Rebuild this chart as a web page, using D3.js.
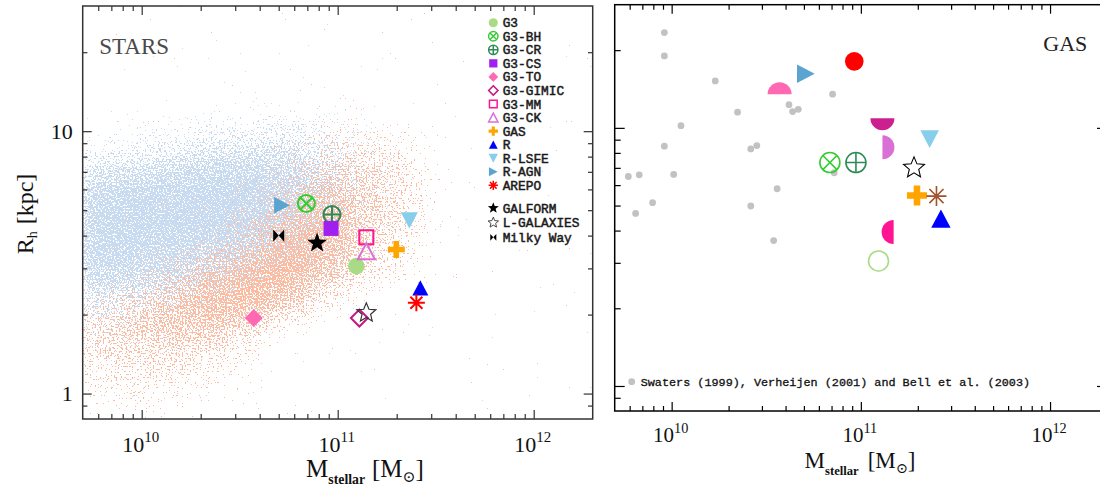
<!DOCTYPE html>
<html>
<head>
<meta charset="utf-8">
<script src="https://cdn.jsdelivr.net/npm/d3@7"></script>
<style>
  html, body { margin: 0; padding: 0; background: #fff; }
  svg { display: block; }
</style>
</head>
<body>
<svg id="chart" width="1100" height="488"></svg>
<script>
// ---------- data ----------
// Simulated galaxies: stellar half-mass radius vs stellar mass
const starModels = ["G3", "G3-BH", "G3-CR", "G3-CS", "G3-TO", "G3-GIMIC", "G3-MM", "G3-CK",
                    "GAS", "R", "R-LSFE", "R-AGN", "AREPO", "GALFORM", "L-GALAXIES", "Milky Way"];
const starMass = [1.245e11, 6.92e10, 9.35e10, 9.25e10, 3.73e10, 1.29e11, 1.40e11, 1.40e11,
                  1.99e11, 2.64e11, 2.32e11, 5.2e10, 2.52e11, 7.85e10, 1.40e11, 5.0e10];
const starRh = [3.06, 5.30, 4.81, 4.26, 1.94, 1.94, 3.94, 3.49,
                3.54, 2.53, 4.57, 5.22, 2.22, 3.75, 2.03, 4.0];

// Gas half-mass radius vs stellar mass
const gasModels = ["G3", "G3-BH", "G3-CR", "G3-CS", "G3-TO", "G3-GIMIC", "G3-MM", "G3-CK",
                   "GAS", "R", "R-LSFE", "R-AGN", "AREPO", "L-GALAXIES"];
const gasMass = [1.24e11, 6.86e10, 9.42e10, 9.23e10, 3.72e10, 1.30e11, 1.49e11, 1.30e11,
                 1.98e11, 2.65e11, 2.31e11, 5.12e10, 2.51e11, 1.91e11];
const gasRh = [3.05, 7.34, 7.34, 18.1, 13.5, 10.9, 3.95, 8.41,
               5.47, 4.45, 9.05, 16.2, 5.44, 7.0];

// Observed disc galaxies (HI sizes)
const obsMass = [9.15e9, 9.15e9, 1.70e10, 2.23e10, 1.12e10, 9.15e9, 2.62e10, 2.82e10, 5.90e9, 6.74e9,
                 1.025e10, 7.93e9, 6.45e9, 2.62e10, 3.61e10, 3.46e10, 7.09e10, 4.17e10, 4.36e10, 4.67e10, 7.23e10];
const obsRh = [23.4, 19.0, 15.2, 11.5, 10.2, 8.49, 8.29, 8.54, 6.48, 6.58,
               6.60, 5.13, 4.66, 4.98, 5.81, 3.66, 13.5, 12.3, 11.56, 11.8, 6.70];
const obsLabel = "Swaters (1999), Verheijen (2001) and Bell et al. (2003)";

// Semi-analytic galaxy populations: relative number density on a grid
// columns: log10 stellar mass bin centres; rows: log10 radius bin centres
const cloudLogMass = [9.75, 9.95, 10.15, 10.35, 10.55, 10.75, 10.95, 11.15, 11.35, 11.55];
const cloudLogRh = [1.25, 1.15, 1.05, 0.95, 0.85, 0.75, 0.65, 0.55, 0.45, 0.35, 0.25, 0.15, 0.05, -0.05];
const discDensity = [   // late types (blue)
  [0.0, 0.0, 0.0, 0.0, 0.0, 0.01, 0.01, 0.0, 0.0, 0.0],
  [0.02, 0.03, 0.04, 0.05, 0.06, 0.06, 0.05, 0.03, 0.01, 0.0],
  [0.1, 0.14, 0.2, 0.24, 0.28, 0.32, 0.27, 0.18, 0.08, 0.02],
  [0.28, 0.35, 0.45, 0.55, 0.6, 0.6, 0.48, 0.3, 0.13, 0.04],
  [0.64, 0.72, 0.8, 0.88, 0.88, 0.82, 0.62, 0.38, 0.16, 0.05],
  [0.9, 0.95, 0.95, 1.0, 1.0, 0.9, 0.66, 0.38, 0.16, 0.05],
  [0.95, 1.0, 1.0, 1.0, 0.95, 0.85, 0.62, 0.32, 0.13, 0.04],
  [0.92, 0.95, 0.92, 0.88, 0.82, 0.72, 0.5, 0.25, 0.1, 0.03],
  [0.82, 0.82, 0.78, 0.72, 0.62, 0.48, 0.32, 0.16, 0.07, 0.02],
  [0.6, 0.55, 0.5, 0.42, 0.34, 0.24, 0.14, 0.07, 0.03, 0.01],
  [0.4, 0.35, 0.28, 0.22, 0.15, 0.09, 0.05, 0.03, 0.01, 0.0],
  [0.25, 0.2, 0.15, 0.11, 0.07, 0.04, 0.02, 0.01, 0.0, 0.0],
  [0.16, 0.13, 0.09, 0.06, 0.04, 0.02, 0.01, 0.0, 0.0, 0.0],
  [0.1, 0.08, 0.05, 0.03, 0.02, 0.01, 0.0, 0.0, 0.0, 0.0]
];
const spheroidDensity = [   // early types (salmon)
  [0.0, 0.0, 0.0, 0.0, 0.0, 0.0, 0.0, 0.0, 0.0, 0.0],
  [0.0, 0.0, 0.0, 0.0, 0.0, 0.02, 0.04, 0.04, 0.02, 0.0],
  [0.0, 0.0, 0.0, 0.02, 0.05, 0.1, 0.16, 0.18, 0.12, 0.03],
  [0.0, 0.0, 0.02, 0.04, 0.1, 0.2, 0.32, 0.38, 0.28, 0.1],
  [0.01, 0.02, 0.03, 0.07, 0.16, 0.34, 0.5, 0.52, 0.4, 0.14],
  [0.02, 0.03, 0.05, 0.1, 0.24, 0.5, 0.7, 0.62, 0.42, 0.14],
  [0.03, 0.04, 0.08, 0.18, 0.38, 0.68, 0.82, 0.62, 0.4, 0.12],
  [0.05, 0.08, 0.18, 0.38, 0.62, 0.85, 0.82, 0.55, 0.32, 0.08],
  [0.12, 0.2, 0.4, 0.68, 0.85, 0.92, 0.7, 0.4, 0.18, 0.04],
  [0.32, 0.48, 0.68, 0.85, 0.9, 0.72, 0.36, 0.12, 0.05, 0.01],
  [0.5, 0.6, 0.72, 0.72, 0.5, 0.2, 0.07, 0.03, 0.01, 0.0],
  [0.45, 0.5, 0.52, 0.44, 0.24, 0.07, 0.02, 0.0, 0.0, 0.0],
  [0.34, 0.37, 0.34, 0.26, 0.12, 0.04, 0.01, 0.0, 0.0, 0.0],
  [0.24, 0.27, 0.2, 0.1, 0.05, 0.01, 0.0, 0.0, 0.0, 0.0]
];

// Axis ticks
const majorMass = [1e10, 1e11, 1e12];
const minorMass = [6e9, 7e9, 8e9, 9e9, 2e10, 3e10, 4e10, 5e10, 6e10, 7e10, 8e10, 9e10,
                   2e11, 3e11, 4e11, 5e11, 6e11, 7e11, 8e11, 9e11];
const majorRadius = [1, 10];
const minorRadius = [0.9, 2, 3, 4, 5, 6, 7, 8, 9, 20];
const radiusTickLabels = ["1", "10"];

// ---------- marker styles ----------
const starStyle = {
  "G3":         { shape: "disc",        color: "#a9db86", s: 8.3 },
  "G3-BH":      { shape: "otimes",      color: "#33cc33", s: 8.5, w: 2 },
  "G3-CR":      { shape: "oplus",       color: "#2e8b57", s: 8.5, w: 2 },
  "G3-CS":      { shape: "square",      color: "#a020f0", s: 7.5 },
  "G3-TO":      { shape: "diamond",     color: "#ff69b4", s: 9 },
  "G3-GIMIC":   { shape: "diamondOpen", color: "#c71585", s: 8.5, w: 2 },
  "G3-MM":      { shape: "squareOpen",  color: "#ff1493", s: 7, w: 2 },
  "G3-CK":      { shape: "triUpOpen",   color: "#da70d6", s: 8.5, w: 2 },
  "GAS":        { shape: "plus",        color: "#ffa500", s: 8.5 },
  "R":          { shape: "triUp",       color: "#0000ff", s: 8 },
  "R-LSFE":     { shape: "triDown",     color: "#87ceeb", s: 8.5 },
  "R-AGN":      { shape: "triRight",    color: "#5ba3d0", s: 8.3 },
  "AREPO":      { shape: "asterisk",    color: "#ff0000", s: 8.5, w: 2 },
  "GALFORM":    { shape: "star",        color: "#000000", s: 10.5 },
  "L-GALAXIES": { shape: "starOpen",    color: "#333333", s: 10, w: 1.2 },
  "Milky Way":  { shape: "bowtie",      color: "#000000", s: 5.5 }
};
const gasStyle = {
  "G3":         { shape: "ring",      color: "#a9db86", s: 10, w: 1.6 },
  "G3-BH":      { shape: "otimes",    color: "#33cc33", s: 10, w: 1.6 },
  "G3-CR":      { shape: "oplus",     color: "#2e8b57", s: 10, w: 1.6 },
  "G3-CS":      { shape: "disc",      color: "#ff0000", s: 9.3 },
  "G3-TO":      { shape: "halfUp",    color: "#ff69b4", s: 12 },
  "G3-GIMIC":   { shape: "halfDown",  color: "#cc2090", s: 12 },
  "G3-MM":      { shape: "halfLeft",  color: "#ff1493", s: 12 },
  "G3-CK":      { shape: "halfRight", color: "#da70d6", s: 12 },
  "GAS":        { shape: "plus",      color: "#ffa500", s: 10 },
  "R":          { shape: "triUp",     color: "#0000ff", s: 9.7 },
  "R-LSFE":     { shape: "triDown",   color: "#87ceeb", s: 9.3 },
  "R-AGN":      { shape: "triRight",  color: "#5ba3d0", s: 9.3 },
  "AREPO":      { shape: "asterisk",  color: "#a0522d", s: 10, w: 1.6 },
  "L-GALAXIES": { shape: "starOpen",  color: "#000000", s: 11, w: 1.1 }
};

// ---------- helpers ----------
function starPath(R, r) {
  const pts = [];
  for (let i = 0; i < 10; i++) {
    const a = -Math.PI / 2 + i * Math.PI / 5;
    const rad = i % 2 === 0 ? R : r;
    pts.push([rad * Math.cos(a), rad * Math.sin(a)]);
  }
  return "M" + pts.map(p => p[0].toFixed(2) + "," + p[1].toFixed(2)).join("L") + "Z";
}

function drawMarker(g, st, k) {
  const s = st.s * (k || 1);
  const w = (st.w || 1.5) * (k ? Math.max(k, 0.75) : 1);
  const c = st.color;
  const fillPath = d => g.append("path").attr("d", d).attr("fill", c);
  const linePath = d => g.append("path").attr("d", d).attr("fill", "none")
                         .attr("stroke", c).attr("stroke-width", w).attr("stroke-linejoin", "miter");
  const h = 0.95 * s;
  switch (st.shape) {
    case "disc": g.append("circle").attr("r", s).attr("fill", c); break;
    case "ring": g.append("circle").attr("r", s).attr("fill", "none").attr("stroke", c).attr("stroke-width", w); break;
    case "otimes": {
      const a = s * 0.707;
      g.append("circle").attr("r", s).attr("fill", "none").attr("stroke", c).attr("stroke-width", w);
      linePath(`M${-a},${-a}L${a},${a}M${-a},${a}L${a},${-a}`);
      break;
    }
    case "oplus":
      g.append("circle").attr("r", s).attr("fill", "none").attr("stroke", c).attr("stroke-width", w);
      linePath(`M${-s},0L${s},0M0,${-s}L0,${s}`);
      break;
    case "square": fillPath(`M${-s},${-s}H${s}V${s}H${-s}Z`); break;
    case "squareOpen": linePath(`M${-s},${-s}H${s}V${s}H${-s}Z`); break;
    case "diamond": fillPath(`M0,${-s}L${s},0L0,${s}L${-s},0Z`); break;
    case "diamondOpen": linePath(`M0,${-s}L${s},0L0,${s}L${-s},0Z`); break;
    case "triUp": fillPath(`M0,${-h}L${s},${h}L${-s},${h}Z`); break;
    case "triUpOpen": linePath(`M0,${-h}L${s},${h}L${-s},${h}Z`); break;
    case "triDown": fillPath(`M0,${h}L${s},${-h}L${-s},${-h}Z`); break;
    case "triRight": fillPath(`M${h},0L${-h},${-s}L${-h},${s}Z`); break;
    case "plus": {
      const t = 0.33 * s;
      fillPath(`M${-t},${-s}H${t}V${-t}H${s}V${t}H${t}V${s}H${-t}V${t}H${-s}V${-t}H${-t}Z`);
      break;
    }
    case "asterisk": {
      const a = s * 0.707;
      linePath(`M${-s},0L${s},0M0,${-s}L0,${s}M${-a},${-a}L${a},${a}M${-a},${a}L${a},${-a}`);
      break;
    }
    case "star": fillPath(starPath(s, s * 0.42)); break;
    case "starOpen": linePath(starPath(s, s * 0.45)); break;
    case "bowtie": fillPath(`M${-s},${-1.1 * s}L0,0L${-s},${1.1 * s}ZM${s},${-1.1 * s}L0,0L${s},${1.1 * s}Z`); break;
    case "halfUp": fillPath(`M${-s},0A${s},${s} 0 0 1 ${s},0Z`); break;
    case "halfDown": fillPath(`M${-s},0A${s},${s} 0 0 0 ${s},0Z`); break;
    case "halfRight": fillPath(`M0,${-s}A${s},${s} 0 0 1 0,${s}Z`); break;
    case "halfLeft": fillPath(`M0,${-s}A${s},${s} 0 0 0 0,${s}Z`); break;
  }
}

// ---------- canvas ----------
const svg = d3.select("#chart");
const defs = svg.append("defs");
const SERIF = "'Liberation Serif', 'DejaVu Serif', serif";
const MONO = "'Liberation Mono', 'DejaVu Sans Mono', monospace";

const leftBox = { x0: 82.7, x1: 592.7, y0: 6, y1: 419 };
const rightBox = { x0: 614.7, x1: 1107, y0: 4.7, y1: 411 };

function makeScales(box) {
  return {
    x: d3.scaleLog().domain([5e9, 2e12]).range([box.x0, box.x1]),
    y: d3.scaleLog().domain([0.8, 30]).range([box.y1, box.y0])
  };
}
const L = makeScales(leftBox);
const R = makeScales(rightBox);

// frame + inward ticks on all four sides
function drawFrame(box, sc, opt) {
  const g = svg.append("g").attr("class", "frame");
  const tickSet = (axisGen, values, size) => sel => {
    sel.call(axisGen.tickValues(values).tickSize(size).tickFormat(""));
    sel.select(".domain").remove();
    sel.selectAll(".tick line").attr("stroke", opt.color).attr("stroke-width", 1.2);
  };
  const sides = [
    [() => d3.axisBottom(sc.x), `translate(0,${box.y1})`, minorMass, majorMass, opt.xMinor, opt.xMajor],
    [() => d3.axisTop(sc.x), `translate(0,${box.y0})`, minorMass, majorMass, opt.xMinor, opt.xMajor],
    [() => d3.axisLeft(sc.y), `translate(${box.x0},0)`, minorRadius, majorRadius, opt.yMinor, opt.yMajor],
    [() => d3.axisRight(sc.y), `translate(${box.x1},0)`, minorRadius, majorRadius, opt.yMinor, opt.yMajor]
  ];
  sides.forEach(([mk, tr, minor, major, sMin, sMaj]) => {
    g.append("g").attr("transform", tr).call(tickSet(mk(), minor, -sMin));
    g.append("g").attr("transform", tr).call(tickSet(mk(), major, -sMaj));
  });
  g.append("rect")
    .attr("x", box.x0).attr("y", box.y0)
    .attr("width", box.x1 - box.x0).attr("height", box.y1 - box.y0)
    .attr("fill", "none").attr("stroke", opt.color).attr("stroke-width", 1.5);
}

function massTickLabels(sc, baseline, size) {
  const g = svg.append("g").attr("font-family", SERIF).attr("fill", "#111");
  majorMass.forEach(v => {
    const t = g.append("text").attr("x", sc.x(v) - 1).attr("y", baseline)
      .attr("text-anchor", "middle").attr("font-size", size);
    t.append("tspan").text("10");
    t.append("tspan").attr("font-size", size * 0.68).attr("dy", -size * 0.42)
      .text(String(Math.round(Math.log10(v))));
  });
}

function massTitle(cx, baseline, size, gapPx) {
  const t = svg.append("text").attr("x", cx).attr("y", baseline)
    .attr("text-anchor", "middle").attr("font-family", SERIF)
    .attr("font-size", size).attr("fill", "#111");
  t.append("tspan").text("M");
  t.append("tspan").attr("font-size", size * 0.55).attr("font-weight", "bold")
    .attr("dy", size * 0.3).text("stellar");
  t.append("tspan").attr("dy", -size * 0.3).attr("dx", gapPx).text("[M");
  t.append("tspan").attr("font-size", size * 0.62).attr("dy", size * 0.2)
    .attr("font-family", "'DejaVu Serif', serif").text("\u2299");
  t.append("tspan").attr("dy", -size * 0.2).text("]");
}

// ---------- left panel: STARS ----------
// population clouds rendered as a speckle texture whose dot coverage follows the grid
defs.append("clipPath").attr("id", "clipLeft").append("rect")
  .attr("x", leftBox.x0).attr("y", leftBox.y0)
  .attr("width", leftBox.x1 - leftBox.x0).attr("height", leftBox.y1 - leftBox.y0);

function speckleFilter(id, color, seed) {
  const f = defs.append("filter").attr("id", id)
    .attr("filterUnits", "userSpaceOnUse")
    .attr("x", leftBox.x0).attr("y", leftBox.y0)
    .attr("width", leftBox.x1 - leftBox.x0).attr("height", leftBox.y1 - leftBox.y0)
    .attr("color-interpolation-filters", "sRGB");
  f.append("feGaussianBlur").attr("in", "SourceAlpha").attr("stdDeviation", 13).attr("result", "dens");
  f.append("feTurbulence").attr("type", "fractalNoise").attr("baseFrequency", 0.62)
    .attr("numOctaves", 1).attr("seed", seed).attr("result", "turb");
  f.append("feColorMatrix").attr("in", "turb").attr("type", "matrix")
    .attr("values", "0 0 0 0 0  0 0 0 0 0  0 0 0 0 0  1 0 0 0 0").attr("result", "noise");
  f.append("feComposite").attr("in", "dens").attr("in2", "noise").attr("operator", "arithmetic")
    .attr("k1", 0).attr("k2", 0.42).attr("k3", 1).attr("k4", -0.3).attr("result", "sum");
  f.append("feComponentTransfer").attr("in", "sum").attr("result", "mask")
    .append("feFuncA").attr("type", "discrete").attr("tableValues", "0 1");
  f.append("feFlood").attr("flood-color", color).attr("result", "col");
  f.append("feComposite").attr("in", "col").attr("in2", "mask").attr("operator", "in");
}
speckleFilter("speckleDisc", "#c8dbf0", 7);
speckleFilter("speckleSpheroid", "#fcbca2", 23);

const clouds = svg.append("g").attr("clip-path", "url(#clipLeft)");
function drawCloud(grid, filterId) {
  const g = clouds.append("g").attr("filter", `url(#${filterId})`);
  const cells = [];
  grid.forEach((row, i) => row.forEach((d, j) => cells.push({ lm: cloudLogMass[j], lr: cloudLogRh[i], d })));
  g.selectAll("rect").data(cells).join("rect")
    .attr("x", c => L.x(Math.pow(10, c.lm - 0.1)))
    .attr("width", c => L.x(Math.pow(10, c.lm + 0.1)) - L.x(Math.pow(10, c.lm - 0.1)))
    .attr("y", c => L.y(Math.pow(10, c.lr + 0.05)))
    .attr("height", c => L.y(Math.pow(10, c.lr - 0.05)) - L.y(Math.pow(10, c.lr + 0.05)))
    .attr("fill", "#fff").attr("fill-opacity", c => c.d);
}
drawCloud(discDensity, "speckleDisc");
drawCloud(spheroidDensity, "speckleSpheroid");

drawFrame(leftBox, L, { color: "#333", xMinor: 5, xMajor: 9, yMinor: 4.7, yMajor: 9 });

// y tick labels
const yLab = svg.append("g").attr("font-family", SERIF).attr("font-size", 22).attr("fill", "#111");
majorRadius.forEach((v, i) => {
  yLab.append("text").attr("x", leftBox.x0 - 10).attr("y", L.y(v)).attr("dy", "0.34em")
    .attr("text-anchor", "end").text(radiusTickLabels[i]);
});
massTickLabels(L, 451.7, 22);
massTitle(365, 476.7, 25, 7);

// y title
const yt = svg.append("text").attr("transform", "translate(33,214) rotate(-90)")
  .attr("text-anchor", "middle").attr("font-family", SERIF).attr("font-size", 24).attr("fill", "#111");
yt.append("tspan").text("R");
yt.append("tspan").attr("font-size", 14).attr("dy", 4).text("h");
yt.append("tspan").attr("dy", -4).attr("dx", 7).text("[kpc]");

svg.append("text").attr("x", 99.3).attr("y", 54).attr("font-family", SERIF)
  .attr("font-size", 23).attr("fill", "#4a4a4a").text("STARS");

// model markers
starModels.forEach((m, i) => {
  const g = svg.append("g").attr("transform", `translate(${L.x(starMass[i])},${L.y(starRh[i])})`);
  drawMarker(g, starStyle[m]);
});

// legend
const leg = svg.append("g").attr("font-family", MONO).attr("font-size", 12.8).attr("fill", "#1a1a1a");
starModels.forEach((m, i) => {
  const y = i < 13 ? 22.7 + i * 13.55 : 208 + (i - 13) * 14.65;
  const g = leg.append("g").attr("transform", `translate(493.3,${y})`);
  drawMarker(g, starStyle[m], 0.55);
  leg.append("text").attr("x", 502.7).attr("y", y + 4.5)
    .attr("stroke", "#1a1a1a").attr("stroke-width", 0.5).text(m);
});

// ---------- right panel: GAS ----------
drawFrame(rightBox, R, { color: "#000", xMinor: 5, xMajor: 9, yMinor: 6, yMajor: 10 });
massTickLabels(R, 441.7, 21);
massTitle(860, 468.3, 23, 9);

svg.append("text").attr("x", 1043.3).attr("y", 51).attr("font-family", SERIF)
  .attr("font-size", 22).attr("fill", "#222").text("GAS");

svg.append("g").selectAll("circle").data(obsMass).join("circle")
  .attr("cx", (d, i) => R.x(d)).attr("cy", (d, i) => R.y(obsRh[i]))
  .attr("r", 3.4).attr("fill", "#c2c2c2");

gasModels.forEach((m, i) => {
  const g = svg.append("g").attr("transform", `translate(${R.x(gasMass[i])},${R.y(gasRh[i])})`);
  drawMarker(g, gasStyle[m]);
});

svg.append("circle").attr("cx", 631.7).attr("cy", 381.7).attr("r", 3.4).attr("fill", "#c2c2c2");
svg.append("text").attr("x", 640.7).attr("y", 385.7).attr("font-family", MONO)
  .attr("font-size", 11.8).attr("fill", "#111").attr("stroke", "#111").attr("stroke-width", 0.3)
  .text(obsLabel);
</script>
</body>
</html>
